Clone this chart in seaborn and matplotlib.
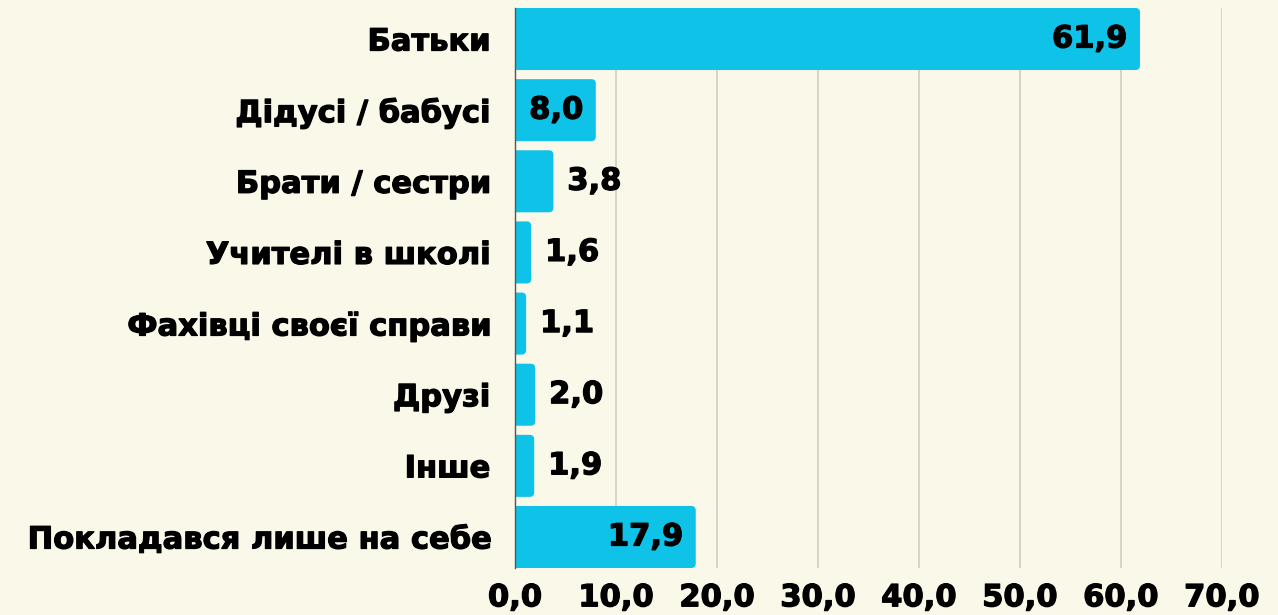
import matplotlib
matplotlib.use("Agg")
import matplotlib.pyplot as plt
import matplotlib.patheffects as pe
from matplotlib.patches import FancyBboxPatch
import pandas as pd
import seaborn as sns

# Data
categories = ["Батьки", "Дідусі / бабусі", "Брати / сестри", "Учителі в школі",
              "Фахівці своєї справи", "Друзі", "Інше", "Покладався лише на себе"]
values = [61.9, 8.0, 3.8, 1.6, 1.1, 2.0, 1.9, 17.9]
x_ticks = [0, 10, 20, 30, 40, 50, 60, 70]

BG = "#faf8e8"
BAR = "#0fc3e8"
BAR_W = 0.872

sns.set_theme(style="white")
plt.rcParams["font.family"] = ["DejaVu Sans"]
plt.rcParams["font.weight"] = "bold"

df = pd.DataFrame({"cat": categories, "val": values})

fig = plt.figure(figsize=(12.78, 6.15), dpi=100, facecolor=BG)
ax = fig.add_axes([0.403, 0.0764, 0.553, 0.9106])
ax.set_facecolor(BG)

sns.barplot(data=df, x="val", y="cat", color=BAR, saturation=1, width=BAR_W, ax=ax)

ax.set_xlim(0, 70)
ax.set_ylim(len(categories) - 1 + BAR_W / 2, -BAR_W / 2)

# rounded bar ends (left side hidden behind the axis)
for p in list(ax.patches):
    x0, y0 = p.get_x(), p.get_y()
    w, h = p.get_width(), p.get_height()
    p.remove()
    rb = FancyBboxPatch((x0 - 1.0, y0), w + 1.0, h,
                        boxstyle="round,pad=0,rounding_size=0.45",
                        mutation_aspect=0.14,
                        facecolor=BAR, edgecolor="none", zorder=2)
    ax.add_patch(rb)

heavy = [pe.withStroke(linewidth=0.9, foreground="black")]

# value labels
for i, v in enumerate(values):
    txt = f"{v:.1f}".replace(".", ",")
    inside = v > 5
    ax.annotate(txt, (v, i), xytext=(-9 if inside else 10, 0),
                textcoords="offset points",
                ha="right" if inside else "left", va="center",
                fontsize=22, fontweight="bold", color="black", zorder=3,
                path_effects=heavy)

ax.set_xticks(x_ticks)
ax.set_xticklabels([f"{t:.1f}".replace(".", ",") for t in x_ticks])
ax.xaxis.grid(True, color="#d3d1c2", linewidth=1.3, zorder=0)
ax.set_axisbelow(True)
ax.set_xlabel("")
ax.set_ylabel("")
ax.tick_params(axis="x", length=0, pad=11, labelsize=22)
ax.tick_params(axis="y", length=0, pad=18, labelsize=22)
for lab in ax.get_xticklabels() + ax.get_yticklabels():
    lab.set_fontweight("bold")
    lab.set_color("black")
    lab.set_path_effects(heavy)

for s in ["top", "right", "bottom"]:
    ax.spines[s].set_visible(False)
ax.spines["left"].set_color("#555555")
ax.spines["left"].set_linewidth(1.0)

fig.savefig("out.png", dpi=100, facecolor=BG)
